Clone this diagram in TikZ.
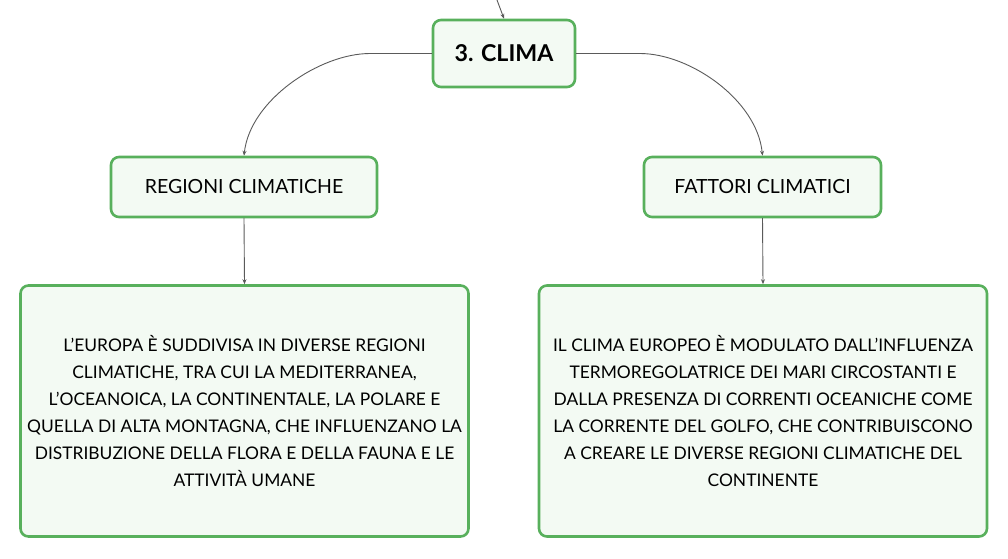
\documentclass[tikz,border=0pt]{standalone}
\usepackage{fontspec}
\setmainfont{Lato}
\usetikzlibrary{arrows.meta}

\definecolor{boxgreen}{RGB}{88,176,92}
\definecolor{boxfill}{RGB}{243,250,243}
\definecolor{linegray}{RGB}{90,90,90}

\begin{document}
\begin{tikzpicture}[line cap=round,line join=round,>={Stealth[length=5pt,width=4pt]},x=1pt,y=-1pt,
  box/.style={draw=boxgreen,fill=boxfill,line width=2.6pt,rounded corners=8pt,align=center,inner sep=0pt},
  topbox/.style={box,minimum width=142pt,minimum height=67pt,font=\fontsize{23.2}{27}\selectfont\bfseries},
  midbox/.style={box,minimum height=60pt,font=\fontsize{19.5}{23}\selectfont},
  textbox/.style={box,minimum width=448pt,minimum height=251pt,font=\fontsize{17.4}{27}\selectfont},
  link/.style={draw=linegray,line width=0.9pt,->}]
\useasboundingbox (0,0) rectangle (1008,558);
\coordinate (parent) at (497,0);
\node[topbox] (clima) at (504,53.5) {3. CLIMA};
\node[midbox,minimum width=266pt] (regioni) at (244,187) {REGIONI CLIMATICHE};
\node[midbox,minimum width=237pt] (fattori) at (762.5,187) {FATTORI CLIMATICI};
\node[textbox] (europa) at (244.5,411) {L'EUROPA È SUDDIVISA IN DIVERSE REGIONI\\
CLIMATICHE, TRA CUI LA MEDITERRANEA,\\
L'OCEANOICA, LA CONTINENTALE, LA POLARE E\\
QUELLA DI ALTA MONTAGNA, CHE INFLUENZANO LA\\
DISTRIBUZIONE DELLA FLORA E DELLA FAUNA E LE\\
ATTIVITÀ UMANE};
\node[textbox] (fattoritesto) at (763,411) {IL CLIMA EUROPEO È MODULATO DALL'INFLUENZA\\
TERMOREGOLATRICE DEI MARI CIRCOSTANTI E\\
DALLA PRESENZA DI CORRENTI OCEANICHE COME\\
LA CORRENTE DEL GOLFO, CHE CONTRIBUISCONO\\
A CREARE LE DIVERSE REGIONI CLIMATICHE DEL\\
CONTINENTE};
\draw[link] (parent) -- (clima.north);
\draw[link] (clima.west) -- (370,53.5) .. controls (320,53.5) and (250,100) .. (regioni.north);
\draw[link] (clima.east) -- (640,53.5) .. controls (690,53.5) and (757,100) .. (fattori.north);
\draw[link] (regioni.south) -- (europa.north);
\draw[link] (fattori.south) -- (fattoritesto.north);
\end{tikzpicture}
\end{document}
